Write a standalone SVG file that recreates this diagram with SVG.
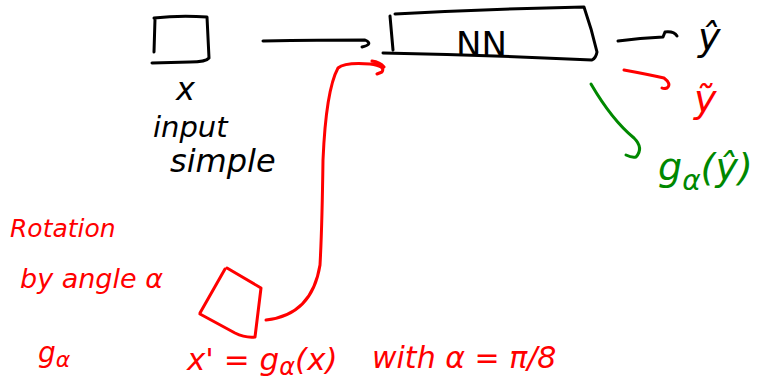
<svg xmlns="http://www.w3.org/2000/svg" width="777" height="381" viewBox="0 0 777 381">
<style>
.k{fill:none;stroke:#000;stroke-width:3;stroke-linecap:round;stroke-linejoin:round}
.r{fill:none;stroke:#f00;stroke-width:3;stroke-linecap:round;stroke-linejoin:round}
.g{fill:none;stroke:#080;stroke-width:3;stroke-linecap:round;stroke-linejoin:round}
text{font-family:"DejaVu Sans","Liberation Sans",sans-serif;font-style:italic}
.tk{fill:#000}.tr{fill:#f00}.tg{fill:#080}
.up{font-style:normal}
</style>
<rect width="777" height="381" fill="#fff"/>
<g id="input">
<path class="k" d="M155,19 L154,52 M154,18 Q180,15 207,17 L209,58 Q206,62 190,62 L152,63"/>
<text class="tk" x="176" y="100" font-size="32">x</text>
<text class="tk" x="153" y="137" font-size="29">input</text>
<text class="tk" x="170" y="172" font-size="32">simple</text>
</g>
<g id="nn">
<path class="k" d="M390,16 L393,50 M395,14 Q490,9 584,7 Q592,30 597,52 Q596,58 592,60 Q490,55 383,53"/>
<text class="tk up" x="456" y="56" font-size="34">NN</text>
</g>
<g id="yhat"><text class="tk" x="698" y="50" font-size="38">ŷ</text></g>
<g id="ytilde"><text class="tr" x="694" y="112" font-size="38">ỹ</text></g>
<g id="galpha-yhat"><text class="tg" x="658" y="180" font-size="38">g<tspan font-size="28" dy="10">α</tspan><tspan dy="-10">(ŷ)</tspan></text></g>
<g id="rotation">
<text class="tr" x="10" y="237" font-size="25">Rotation</text>
<text class="tr" x="20" y="288" font-size="27">by angle α</text>
<text class="tr" x="38" y="362" font-size="28">g<tspan font-size="22" dy="5">α</tspan></text>
</g>
<g id="rotated">
<path class="r" d="M225,269 L200,313 M227,268 L261,288 L255,337 Q245,338 235,333 L200,314"/>
<text class="tr" x="187" y="370" font-size="31">x' = g<tspan font-size="24" dy="5">α</tspan><tspan dy="-5">(x)</tspan></text>
<text class="tr" x="372" y="368" font-size="30">with α = π/8</text>
</g>
<g id="connectors">
<path class="k" d="M263,41 Q320,40 365,40 Q374,44 362,47"/>
<path class="k" d="M618,41 Q640,38 663,37 L665,32 Q674,31 677,36"/>
<path class="r" d="M266,320 Q312,315 320,265 Q322,230 323,160 Q326,90 338,68 Q345,62 370,64 Q386,66 382,72 Q377,74 377,74 M372,61 Q380,62 384,67"/>
<path class="r" d="M624,70 Q646,74 664,78 Q672,84 667,88 Q664,89 662,88"/>
<path class="g" d="M591,84 Q612,120 634,138 Q644,148 636,157 Q632,158 626,155"/>
</g>
</svg>
